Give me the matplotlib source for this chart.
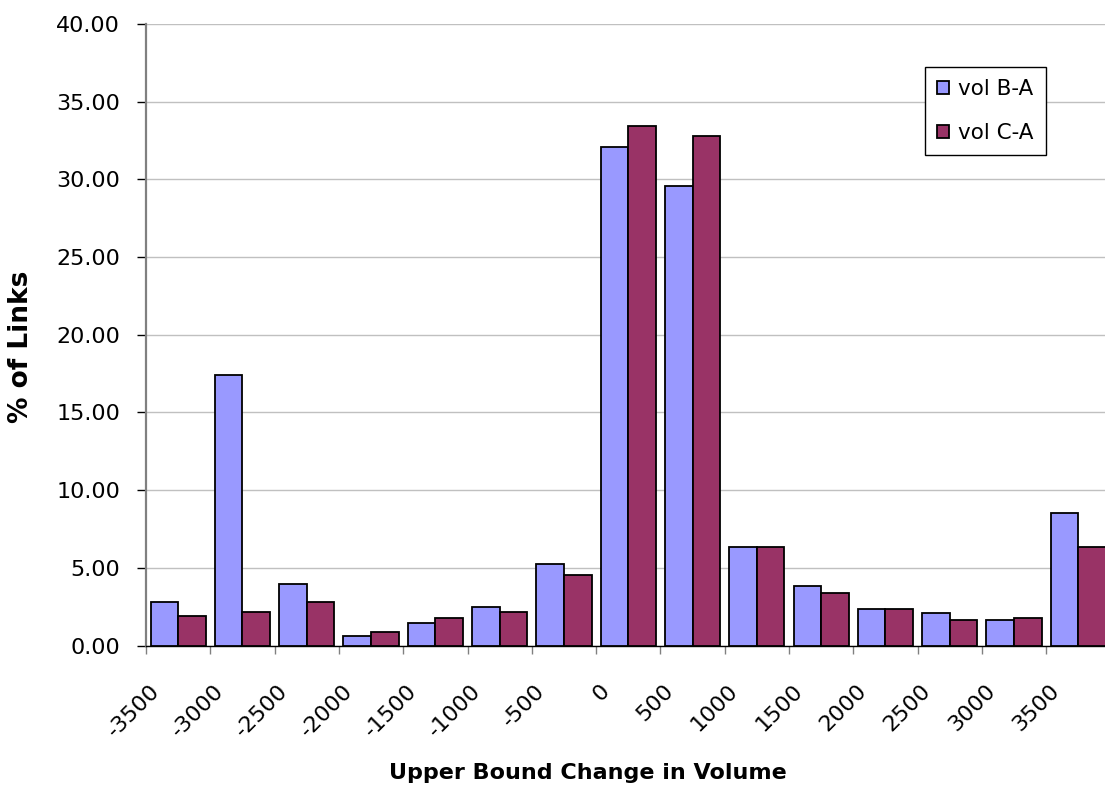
import numpy as np
import matplotlib
matplotlib.use("Agg")
import matplotlib.pyplot as plt
from matplotlib.ticker import FormatStrFormatter, NullFormatter
from matplotlib.transforms import ScaledTranslation, blended_transform_factory

# bins of upper bound change (category labels)
categories = ["-3500", "-3000", "-2500", "-2000", "-1500", "-1000", "-500",
              "0", "500", "1000", "1500", "2000", "2500", "3000", "3500"]
# % of links per bin
vol_b_a = [2.79, 17.40, 3.98, 0.58, 1.45, 2.50, 5.26,
           32.10, 29.60, 6.32, 3.86, 2.33, 2.07, 1.62, 8.53]
vol_c_a = [1.90, 2.18, 2.79, 0.84, 1.77, 2.18, 4.53,
           33.42, 32.82, 6.32, 3.38, 2.33, 1.62, 1.77, 6.34]
series_names = ["vol B-A", "vol C-A"]

plt.rcParams["font.family"] = "DejaVu Sans"

fig = plt.figure(figsize=(11.05, 7.9), dpi=100)
W, H = 1105.0, 790.0
ax = fig.add_axes([146 / W, (H - 645.5) / H, (1110.5 - 146) / W, (645.5 - 24) / H])

x = np.arange(len(categories))
w = 0.43
ax.bar(x - w / 2, vol_b_a, w, color="#9999FF", edgecolor="black", linewidth=1.3,
       label=series_names[0], zorder=3)
ax.bar(x + w / 2, vol_c_a, w, color="#993366", edgecolor="black", linewidth=1.3,
       label=series_names[1], zorder=3)

# axes limits and grid
ax.set_xlim(-0.5, len(categories) - 0.5)
ax.set_ylim(0, 40)
ax.set_yticks(np.arange(0, 41, 5))
ax.yaxis.set_major_formatter(FormatStrFormatter("%.2f"))
ax.yaxis.grid(True, color="#C0C0C0", linewidth=1.0, zorder=0)
ax.set_axisbelow(True)

ax.spines["top"].set_visible(False)
ax.spines["right"].set_visible(False)
ax.spines["left"].set_color("#808080")
ax.spines["left"].set_linewidth(1.6)
ax.spines["bottom"].set_color("black")
ax.spines["bottom"].set_linewidth(1.0)

ax.tick_params(axis="y", direction="out", length=6.5, width=1, color="black",
               pad=12, labelsize=16)

# tick marks on category boundaries, no tick labels there
ax.set_xticks(np.arange(len(categories) + 1) - 0.5)
ax.xaxis.set_major_formatter(NullFormatter())
ax.tick_params(axis="x", direction="out", length=6, width=1, color="#808080")

# category labels, rotated, ending a little left of each category centre
trans = blended_transform_factory(ax.transData, ax.transAxes) + \
    ScaledTranslation(-29 / 100, -35 / 100, fig.dpi_scale_trans)
for xi, lab in zip(x, categories):
    ax.text(xi, 0, lab, transform=trans, rotation=45, rotation_mode="anchor",
            ha="right", va="top", fontsize=16, clip_on=False)

ax.set_xlabel("Upper Bound Change in Volume", fontsize=16, fontweight="bold")
ax.xaxis.set_label_coords((588 - 146) / (1110.5 - 146), -(773 - 645.5) / 621.5)
ax.xaxis.label.set_va("center")
ax.set_ylabel("% of Links", fontsize=19, fontweight="bold")
ax.yaxis.set_label_coords((34 - 146) / (1110.5 - 146), (645.5 - 347) / 621.5)

leg = ax.legend(loc="upper left", bbox_to_anchor=(925 / W, 1 - 67 / H),
                bbox_transform=fig.transFigure, fontsize=15.5, frameon=True,
                fancybox=False, framealpha=1, edgecolor="black",
                handlelength=0.55, handleheight=0.55, handletextpad=0.45,
                labelspacing=1.14, borderpad=0.55, borderaxespad=0)
leg.get_frame().set_linewidth(1.0)

fig.savefig("out.png", dpi=100)
